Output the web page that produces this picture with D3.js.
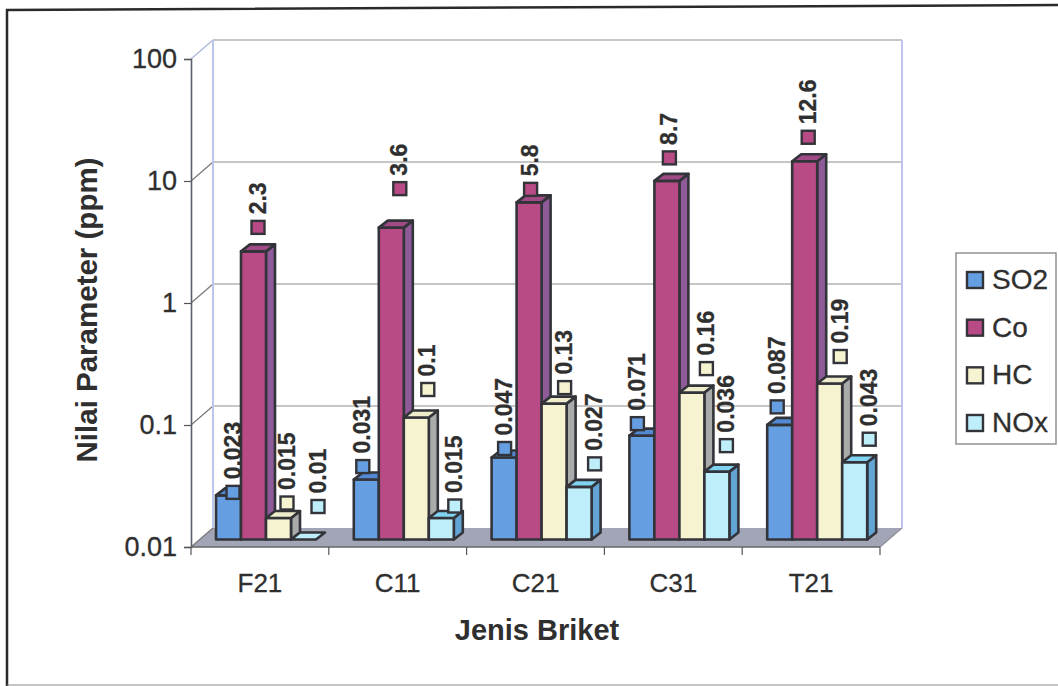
<!DOCTYPE html>
<html>
<head>
<meta charset="utf-8">
<script src="https://cdn.jsdelivr.net/npm/d3@7/dist/d3.min.js"></script>
<style>
html,body{margin:0;padding:0;background:#fff}
svg{display:block;font-family:"Liberation Sans",Arial,sans-serif}
</style>
</head>
<body>
<svg id="chart" width="1058" height="686"></svg>
<script>
// Emission parameters per briquette type
const categories = ["F21", "C11", "C21", "C31", "T21"];
const seriesNames = ["SO2", "Co", "HC", "NOx"];
const so2 = [0.023, 0.031, 0.047, 0.071, 0.087];
const co = [2.3, 3.6, 5.8, 8.7, 12.6];
const hc = [0.015, 0.1, 0.13, 0.16, 0.19];
const nox = [0.01, 0.015, 0.027, 0.036, 0.043];
const yTicks = [0.01, 0.1, 1, 10, 100];

const seriesValues = [so2, co, hc, nox];

// Hand-placed label nudges: [shift right of the bar's left edge, lift above its top]
const labelNudge = [
  [[17, 3], [9, 13], [13, 9], [8, 12], [10, 18]],
  [[17, 24], [21, 39], [14, 13], [15, 23], [16, 24]],
  [[21, 15], [24, 28], [23, 16], [27, 24], [23, 27]],
  [[27, 33], [26, 12], [28, 23], [22, 26], [27, 23]]
];

const palette = [
  { front: "#659fe2", top: "#5289d2", side: "#3f76b8" },
  { front: "#b84a86", top: "#a04a86", side: "#8e5a98" },
  { front: "#f6f3d0", top: "#efeccb", side: "#a9abab" },
  { front: "#bdeefa", top: "#7fd2f0", side: "#62a4d4" }
];
const ink = "#33343a";
const textInk = "#2f2f2f";

const svg = d3.select("#chart");

// Sheet frame, very slightly skewed
svg.append("path")
  .attr("d", d3.line()([[7, 686], [7, 10], [1058, 5]]))
  .attr("fill", "none").attr("stroke", "#2a2a2a").attr("stroke-width", 2.5);
svg.append("path")
  .attr("d", d3.line()([[7, 685], [1058, 685]]))
  .attr("fill", "none").attr("stroke", "#888").attr("stroke-width", 1);

// Scales
const plotLeft = 191, plotRight = 880, axisBottom = 547, axisTop = 59;
const wallDx = 22, wallDy = -19;
const barPlaneDy = -7.5;
const barDx = 9, barDy = -7;

const x = d3.scaleBand().domain(categories).range([plotLeft, plotRight]);
const y = d3.scaleLog().domain([0.01, 100]).range([axisBottom, axisTop]);
const sub = d3.scaleBand().domain(seriesNames).range([25, 125]);

const g = svg.append("g");

// Floor of the 3D plot
g.append("polygon")
  .attr("points", [
    [plotLeft, axisBottom], [plotLeft + wallDx, axisBottom + wallDy],
    [plotRight + wallDx, axisBottom + wallDy], [plotRight, axisBottom]
  ].join(" "))
  .attr("fill", "#a2a5b6");

// Back wall gridlines and their diagonal returns
yTicks.forEach(t => {
  const yy = y(t);
  if (t > 0.01) {
    g.append("line")
      .attr("x1", plotLeft + wallDx).attr("x2", plotRight + wallDx)
      .attr("y1", yy + wallDy).attr("y2", yy + wallDy)
      .attr("stroke", "#8e8e8e").attr("stroke-width", 1.2);
  }
  g.append("line")
    .attr("x1", plotLeft).attr("x2", plotLeft + wallDx)
    .attr("y1", yy).attr("y2", yy + wallDy)
    .attr("stroke", t === 100 ? "#aab4dc" : "#777").attr("stroke-width", 1.2);
});

// Wall edges
[[plotLeft + wallDx, y(100) + wallDy, plotLeft + wallDx, axisBottom + wallDy],
 [plotRight + wallDx, y(100) + wallDy, plotRight + wallDx, axisBottom + wallDy]].forEach(d => {
  g.append("line")
    .attr("x1", d[0]).attr("y1", d[1]).attr("x2", d[2]).attr("y2", d[3])
    .attr("stroke", "#bcc6ec").attr("stroke-width", 2);
});
g.append("line")
  .attr("x1", plotRight).attr("y1", axisBottom).attr("x2", plotRight + wallDx).attr("y2", axisBottom + wallDy)
  .attr("stroke", "#8e8e98").attr("stroke-width", 1.2);

// Value axis
const yAxis = d3.axisLeft(y)
  .tickValues(yTicks)
  .tickFormat(d => String(d))
  .tickSize(7)
  .tickPadding(7);
const yAxisG = g.append("g").attr("transform", `translate(${plotLeft},0)`).call(yAxis);
yAxisG.select(".domain").attr("stroke", "#5b6070").attr("stroke-width", 1.6);
yAxisG.selectAll(".tick line").attr("stroke", "#555").attr("stroke-width", 1.2);
yAxisG.selectAll("text").attr("font-size", 27).attr("fill", textInk)
  .attr("stroke", textInk).attr("stroke-width", 0.3)
  .attr("font-family", '"Liberation Sans",Arial,sans-serif');

// Category axis: labels in the middle of each band, ticks on band edges
const xAxis = d3.axisBottom(x).tickSize(0).tickPadding(27);
const xAxisG = g.append("g").attr("transform", `translate(0,${axisBottom})`).call(xAxis);
xAxisG.select(".domain").remove();
xAxisG.selectAll("text").attr("font-size", 26).attr("fill", textInk)
  .attr("stroke", textInk).attr("stroke-width", 0.3)
  .attr("font-family", '"Liberation Sans",Arial,sans-serif');
g.append("line")
  .attr("x1", plotLeft).attr("x2", plotRight)
  .attr("y1", axisBottom).attr("y2", axisBottom)
  .attr("stroke", "#666").attr("stroke-width", 1.4);
g.selectAll("line.band-tick")
  .data(categories.map(c => x(c)).concat([plotRight]))
  .join("line")
  .attr("class", "band-tick")
  .attr("x1", d => d).attr("x2", d => d)
  .attr("y1", axisBottom).attr("y2", axisBottom + 8)
  .attr("stroke", "#555").attr("stroke-width", 1.2);

// Axis titles
svg.append("text")
  .attr("x", 537).attr("y", 640)
  .attr("text-anchor", "middle")
  .attr("font-size", 29).attr("font-weight", "bold").attr("fill", textInk)
  .text("Jenis Briket");
svg.append("text")
  .attr("transform", "translate(97,310) rotate(-90)")
  .attr("text-anchor", "middle")
  .attr("font-size", 29.5).attr("font-weight", "bold").attr("fill", textInk)
  .text("Nilai Parameter (ppm)");

// Bars, drawn left to right so each one overlaps its neighbour's side face
const bars = g.append("g");
const labels = g.append("g");
categories.forEach((cat, ci) => {
  seriesNames.forEach((name, si) => {
    const value = seriesValues[si][ci];
    const left = x(cat) + sub(name);
    const w = sub.bandwidth();
    const base = axisBottom + barPlaneDy;
    const top = y(value) + barPlaneDy;
    const col = palette[si];
    const b = bars.append("g")
      .attr("stroke", ink).attr("stroke-width", 2.6).attr("stroke-linejoin", "round");
    if (base - top > 0.5) {
      b.append("polygon")
        .attr("points", [[left + w, top], [left + w + barDx, top + barDy],
          [left + w + barDx, base + barDy], [left + w, base]].join(" "))
        .attr("fill", col.side);
      b.append("rect")
        .attr("x", left).attr("y", top).attr("width", w).attr("height", base - top)
        .attr("fill", col.front);
    }
    b.append("polygon")
      .attr("points", [[left, top], [left + barDx, top + barDy],
        [left + w + barDx, top + barDy], [left + w, top]].join(" "))
      .attr("fill", base - top > 0.5 ? col.top : col.front);

    // Value label: a small series key with the rotated number above it
    const [nx, lift] = labelNudge[si][ci];
    const mx = left + nx;
    const my = top - lift;
    labels.append("rect")
      .attr("x", mx - 6.5).attr("y", my - 6.5).attr("width", 13).attr("height", 13)
      .attr("fill", col.front).attr("stroke", ink).attr("stroke-width", 2.4);
    labels.append("text")
      .attr("transform", `translate(${mx + 7.5},${my - 13}) rotate(-90)`)
      .attr("font-size", 23).attr("font-weight", "bold").attr("fill", textInk)
      .attr("stroke", textInk).attr("stroke-width", 0.3)
      .text(String(value));
  });
});

// Legend
const legend = svg.append("g");
legend.append("rect")
  .attr("x", 956).attr("y", 253).attr("width", 100).attr("height", 191)
  .attr("fill", "#fff").attr("stroke", "#8a8a8a").attr("stroke-width", 1.4);
const legendY = d3.scalePoint().domain(seriesNames).range([280, 423]);
seriesNames.forEach((name, si) => {
  legend.append("rect")
    .attr("x", 967).attr("y", legendY(name) - 8).attr("width", 16).attr("height", 16)
    .attr("fill", palette[si].front).attr("stroke", ink).attr("stroke-width", 2.4);
  legend.append("text")
    .attr("x", 992).attr("y", legendY(name) + 9)
    .attr("font-size", 28).attr("fill", textInk)
    .attr("stroke", textInk).attr("stroke-width", 0.3)
    .text(name);
});
</script>
</body>
</html>
